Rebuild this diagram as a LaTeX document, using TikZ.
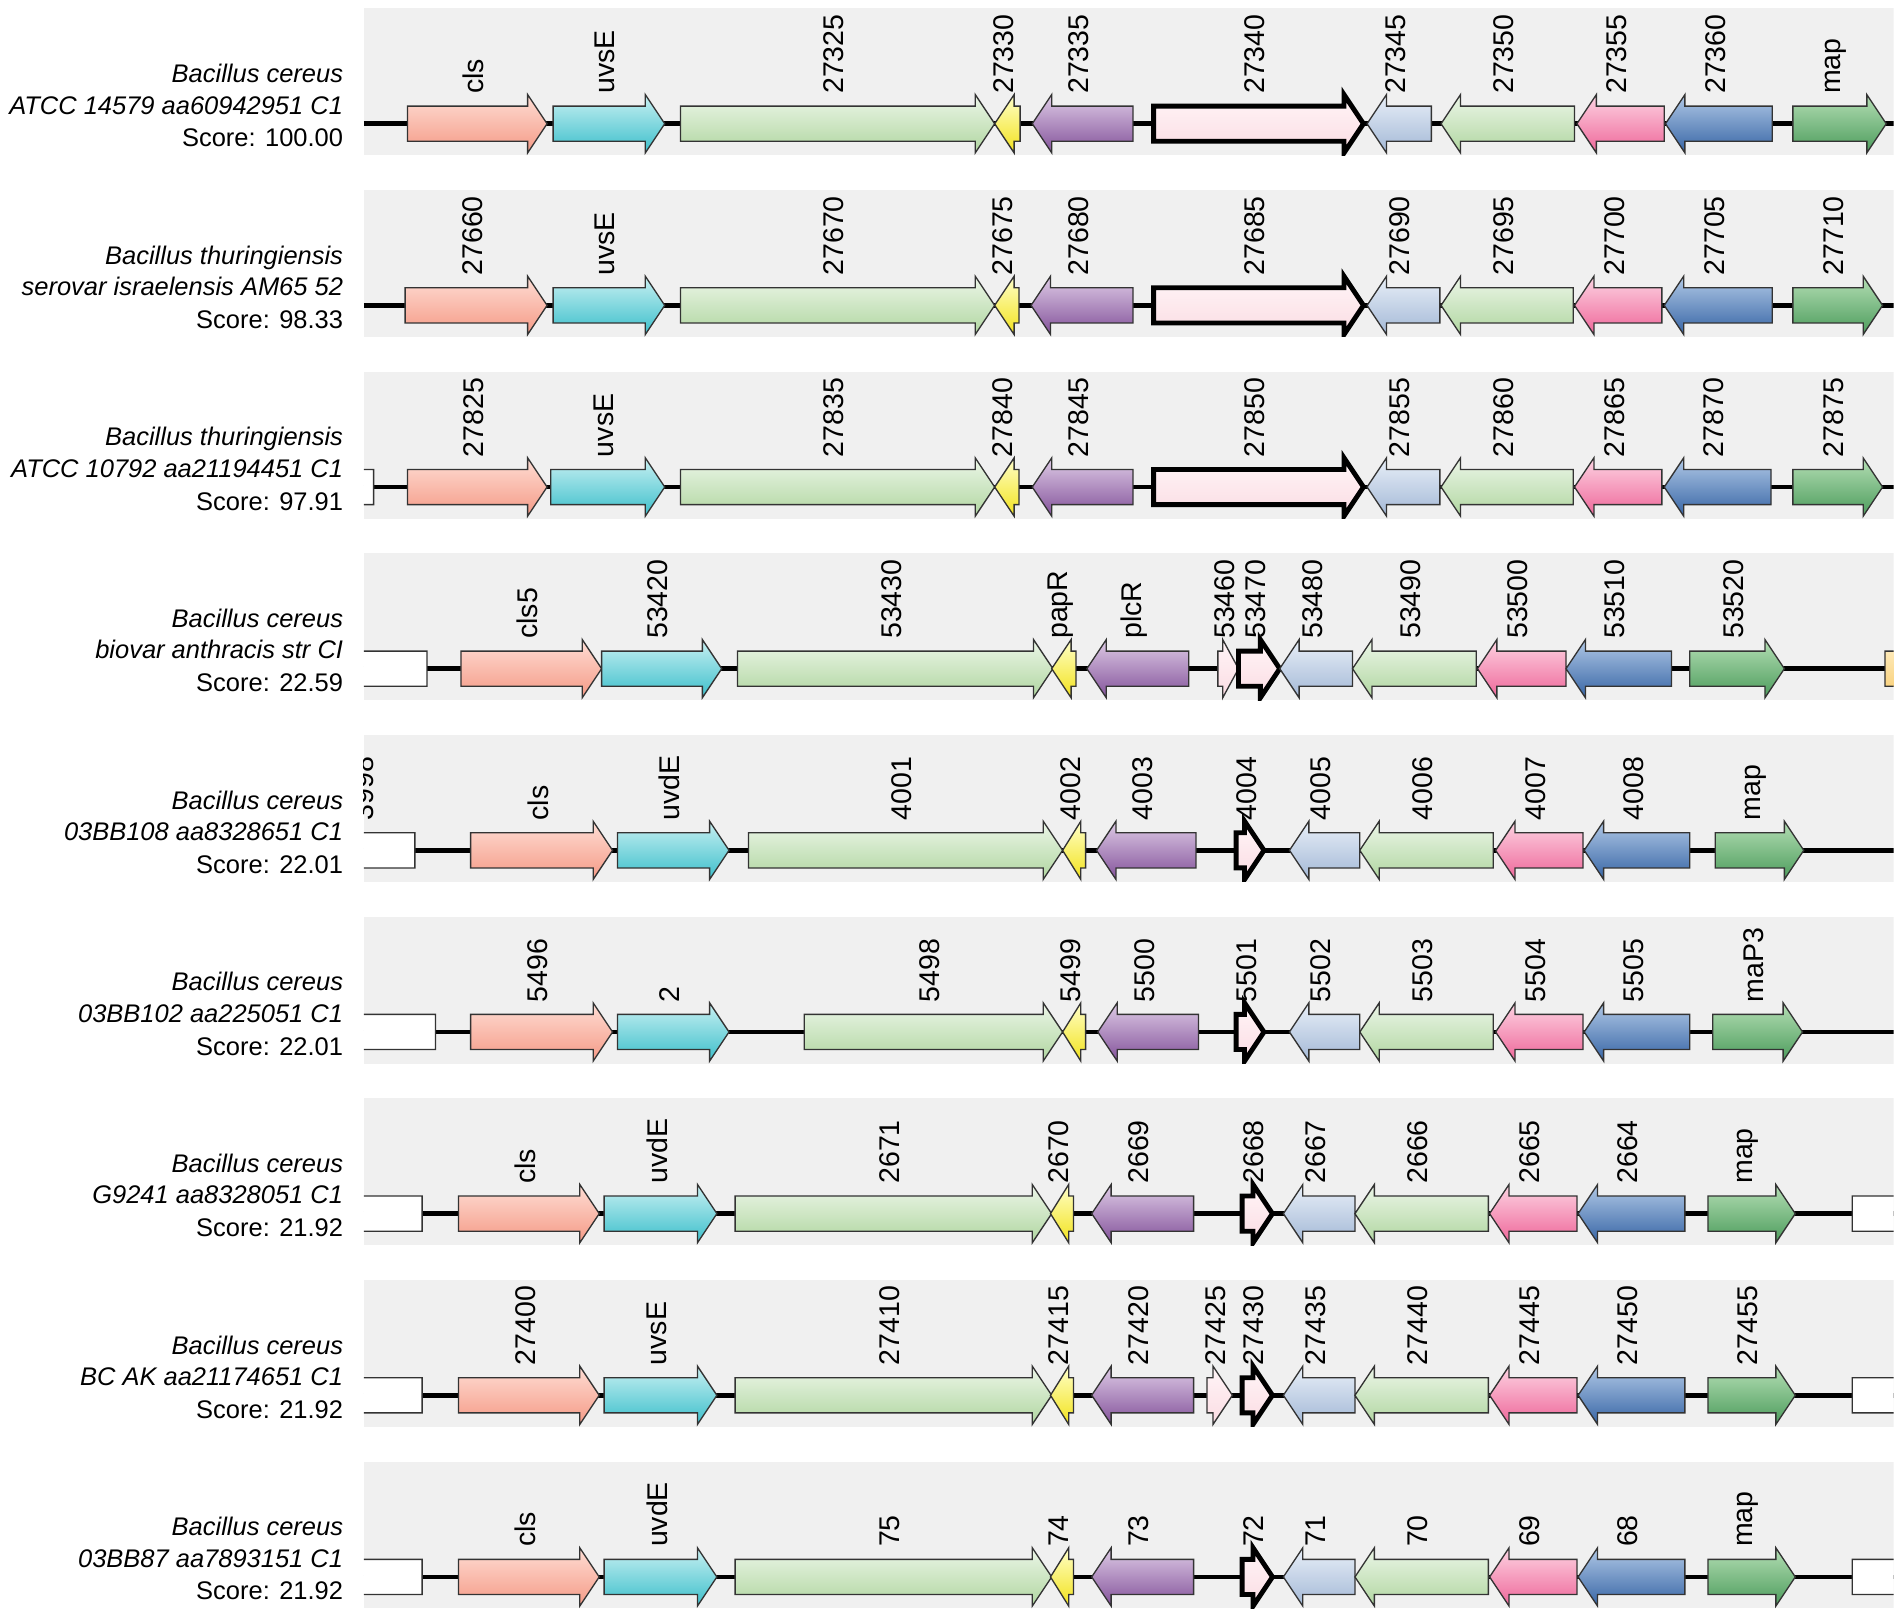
\documentclass[tikz,border=0pt]{standalone}
\usepackage{fontspec}
\setmainfont{Liberation Sans}
\usepackage{xcolor}
\usepackage{tikz}

\definecolor{bandgrey}{HTML}{F0F0F0}
\definecolor{salmonT}{HTML}{FEDDD4}\definecolor{salmonB}{HTML}{F59A86}
\definecolor{cyanT}{HTML}{C8F0F2}\definecolor{cyanB}{HTML}{3CBFCB}
\definecolor{lgreenT}{HTML}{ECF6E8}\definecolor{lgreenB}{HTML}{B0D6A0}
\definecolor{yellowT}{HTML}{FFFFC8}\definecolor{yellowB}{HTML}{F2E21C}
\definecolor{purpleT}{HTML}{DECBE6}\definecolor{purpleB}{HTML}{83529A}
\definecolor{focusT}{HTML}{FFF5F7}\definecolor{focusB}{HTML}{FBDCE3}
\definecolor{steelT}{HTML}{E8EFF8}\definecolor{steelB}{HTML}{A3B8D6}
\definecolor{roseT}{HTML}{FDD3E2}\definecolor{roseB}{HTML}{EE6699}
\definecolor{blueT}{HTML}{B0C8E6}\definecolor{blueB}{HTML}{3765A5}
\definecolor{greenT}{HTML}{B4DEB4}\definecolor{greenB}{HTML}{4C9C5C}
\definecolor{beigeT}{HTML}{FFF0C8}\definecolor{beigeB}{HTML}{F8CC70}

\tikzset{
	band/.style={fill=bandgrey},
	chrom/.style={black, line width=4pt},
	gene/.style={draw=black!80, line width=1.1pt, line join=miter},
	gSalmon/.style={top color=salmonT, bottom color=salmonB},
	gCyan/.style={top color=cyanT, bottom color=cyanB},
	gLgreen/.style={top color=lgreenT, bottom color=lgreenB},
	gYellow/.style={top color=yellowT, bottom color=yellowB},
	gPurple/.style={top color=purpleT, bottom color=purpleB},
	gFocus/.style={draw=black, line width=4pt, top color=focusT, bottom color=focusB},
	gFocusThin/.style={top color=focusT, bottom color=focusB},
	gSteel/.style={top color=steelT, bottom color=steelB},
	gRose/.style={top color=roseT, bottom color=roseB},
	gBlue/.style={top color=blueT, bottom color=blueB},
	gGreen/.style={top color=greenT, bottom color=greenB},
	gBeige/.style={top color=beigeT, bottom color=beigeB},
	gWhite/.style={fill=white},
	glabel/.style={rotate=90, anchor=west, inner sep=0pt, font=\fontsize{23.5}{23.5}\selectfont},
	species/.style={anchor=base east, inner sep=0pt, font=\fontsize{21}{21}\selectfont\itshape},
	score/.style={anchor=base east, inner sep=0pt, font=\fontsize{21}{21}\selectfont}
}

% one genome row: name, y of the line, genes as tail/tip/style/label
\newcommand{\generow}[3]{%
	\begin{scope}
		\clip (300,#2-95) rectangle (1561,#2+26);
		\fill[band] (300,#2-95) rectangle (1561,#2+26);
		\draw[chrom] (300,#2) -- (1561,#2);
		\foreach \ga/\gb/\gs/\gl [count=\gi] in {#3}{
			\pgfmathsetmacro{\gd}{\gb>\ga ? 1 : -1}
			\pgfmathsetmacro{\gh}{min(16,abs(\gb-\ga)-4)}
			\pgfmathsetmacro{\gk}{\gb-\gd*\gh}
			\pgfmathsetmacro{\gm}{(\ga+\gb)/2-3}
			\draw[gene,\gs] (\ga,#2-14.5) -- (\gk,#2-14.5) -- (\gk,#2-24) -- (\gb,#2)
				-- (\gk,#2+24) -- (\gk,#2+14.5) -- (\ga,#2+14.5) -- cycle;
			\node[glabel] (#1g\gi) at (\gm,#2-24.5) {\gl};
		}
	\end{scope}}

\begin{document}
\begin{tikzpicture}[x=1pt,y=-1pt]
		\useasboundingbox (0,0) rectangle (1568,1335);
		% 基因组名称与得分
		\foreach \y/\spn/\stn/\scv [count=\ri] in {
			102/Bacillus cereus/ATCC 14579 aa60942951 C1/100.00,
			251.75/Bacillus thuringiensis/serovar israelensis AM65 52/98.33,
			401.5/Bacillus thuringiensis/ATCC 10792 aa21194451 C1/97.91,
			551.25/Bacillus cereus/biovar anthracis str CI/22.59,
			701/Bacillus cereus/03BB108 aa8328651 C1/22.01,
			850.75/Bacillus cereus/03BB102 aa225051 C1/22.01,
			1000.5/Bacillus cereus/G9241 aa8328051 C1/21.92,
			1150.25/Bacillus cereus/BC AK aa21174651 C1/21.92,
			1300/Bacillus cereus/03BB87 aa7893151 C1/21.92}
		{
			\node[species] (sp\ri) at (283,\y-34) {\spn};
			\node[species] (st\ri) at (283,\y-8) {\stn};
			\node[score] (sc\ri) at (283,\y+19) {Score: \scv};
		}
		% 各行基因
		\generow{r1}{102}{336/451/gSalmon/cls, 456/548/gCyan/uvsE, 561/820/gLgreen/27325,
			841/820/gYellow/27330, 934/851/gPurple/27335, 951/1124/gFocus/27340,
			1180/1127/gSteel/27345, 1298/1188/gLgreen/27350, 1372/1300/gRose/27355,
			1461/1373/gBlue/27360, 1478/1555/gGreen/map}
		\generow{r2}{251.75}{334/451/gSalmon/27660, 456/548/gCyan/uvsE, 561/820/gLgreen/27670,
			840/820/gYellow/27675, 934/850/gPurple/27680, 951/1124/gFocus/27685,
			1187/1127/gSteel/27690, 1297/1188/gLgreen/27695, 1370/1298/gRose/27700,
			1461/1372/gBlue/27705, 1478/1552/gGreen/27710}
		\generow{r3}{401.5}{308/270/gWhite/{}, 336/451/gSalmon/27825, 454/548/gCyan/uvsE,
			561/820/gLgreen/27835, 840/820/gYellow/27840, 934/851/gPurple/27845,
			951/1124/gFocus/27850, 1187/1127/gSteel/27855, 1297/1188/gLgreen/27860,
			1370/1298/gRose/27865, 1460/1372/gBlue/27870, 1478/1552/gGreen/27875}
		\generow{r4}{551.25}{352/280/gWhite/{}, 380/496/gSalmon/cls5, 496/595/gCyan/53420,
			608/868/gLgreen/53430, 887/867/gYellow/papR, 980/896/gPurple/plcR,
			1004/1021/gFocusThin/53460, 1021/1055/gFocus/53470, 1115/1055/gSteel/53480,
			1217/1115/gLgreen/53490, 1291/1218/gRose/53500, 1378/1291/gBlue/53510,
			1393/1471/gGreen/53520, 1554/1600/gBeige/{}}
		\generow{r5}{701}{342/264/gWhite/3998, 388/505/gSalmon/cls, 509/601/gCyan/uvdE,
			617/876/gLgreen/4001, 895/876/gYellow/4002, 986/904/gPurple/4003,
			1019/1042/gFocus/4004, 1121/1063/gSteel/4005, 1231/1121/gLgreen/4006,
			1305/1233/gRose/4007, 1393/1306/gBlue/4008, 1414/1487/gGreen/map}
		\generow{r6}{850.75}{359/280/gWhite/{}, 388/505/gSalmon/5496, 509/601/gCyan/2,
			663/876/gLgreen/5498, 895/876/gYellow/5499, 988/905/gPurple/5500,
			1019/1042/gFocus/5501, 1121/1063/gSteel/5502, 1231/1121/gLgreen/5503,
			1305/1233/gRose/5504, 1393/1306/gBlue/5505, 1412/1486/gGreen/maP3}
		\generow{r7}{1000.5}{348/280/gWhite/{}, 378/494/gSalmon/cls, 498/591/gCyan/uvdE,
			606/867/gLgreen/2671, 885/866/gYellow/2670, 984/900/gPurple/2669,
			1024/1049/gFocus/2668, 1117/1058/gSteel/2667, 1227/1117/gLgreen/2666,
			1300/1228/gRose/2665, 1389/1301/gBlue/2664, 1408/1480/gGreen/map,
			1527/1600/gWhite/{}}
		\generow{r8}{1150.25}{348/280/gWhite/{}, 378/494/gSalmon/27400, 498/591/gCyan/uvsE,
			606/867/gLgreen/27410, 885/866/gYellow/27415, 984/900/gPurple/27420,
			995/1016/gFocusThin/27425, 1024/1049/gFocus/27430, 1117/1058/gSteel/27435,
			1227/1117/gLgreen/27440, 1300/1228/gRose/27445, 1389/1301/gBlue/27450,
			1408/1480/gGreen/27455, 1527/1600/gWhite/{}}
		\generow{r9}{1300}{348/280/gWhite/{}, 378/494/gSalmon/cls, 498/591/gCyan/uvdE,
			606/867/gLgreen/75, 885/866/gYellow/74, 984/900/gPurple/73,
			1024/1049/gFocus/72, 1117/1058/gSteel/71, 1227/1117/gLgreen/70,
			1300/1228/gRose/69, 1389/1301/gBlue/68, 1408/1480/gGreen/map,
			1527/1600/gWhite/{}}
	\end{tikzpicture}
\end{document}
